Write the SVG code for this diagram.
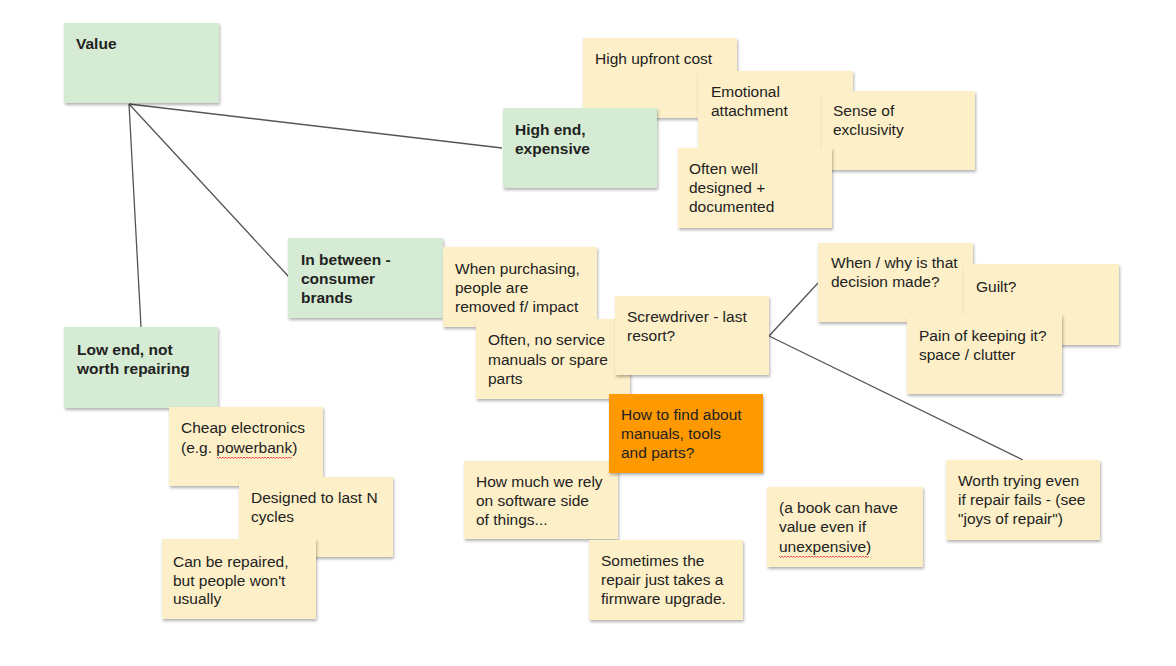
<svg xmlns="http://www.w3.org/2000/svg" width="1176" height="666" viewBox="0 0 1176 666">
<defs>
<filter id="sh" x="-10%" y="-10%" width="125%" height="130%">
<feDropShadow dx="1" dy="2" stdDeviation="1.4" flood-color="#000" flood-opacity="0.3"/>
</filter>
<path id="wave" d="M0,0 l1.5,1.5 l1.5,-1.5" fill="none"/>
</defs>
<style>
.g{fill:#d6ebd3;filter:url(#sh)}
.y{fill:#fdf0c8;filter:url(#sh)}
.o{fill:#ff9900;filter:url(#sh)}
text{font-family:"Liberation Sans",Arial,sans-serif;font-size:15.5px;fill:#222}
.b{font-weight:bold}
.c line{stroke:#555;stroke-width:1.3}
.w{fill:none;stroke:#e03030;stroke-width:0.8}
</style>
<rect width="1176" height="666" fill="#ffffff"/>
<g class="c" id="connectors">
<line x1="129" y1="104" x2="502" y2="148"/>
<line x1="129" y1="104" x2="289" y2="277"/>
<line x1="129" y1="104" x2="141" y2="327"/>
<line x1="769" y1="336" x2="818" y2="283"/>
<line x1="769" y1="336" x2="1023" y2="460"/>
</g>
<g id="value"><rect class="g" x="64" y="23" width="155" height="80"/><text class="b" x="76" y="49">Value</text></g>
<g id="high-upfront"><rect class="y" x="583" y="38" width="154" height="80"/><text x="595" y="64">High upfront cost</text></g>
<g id="high-end"><rect class="g" x="503" y="108" width="154" height="80"/><text class="b" x="515" y="135">High end,</text><text class="b" x="515" y="154">expensive</text></g>
<g id="emotional"><rect class="y" x="698" y="71" width="155" height="80"/><text x="711" y="97">Emotional</text><text x="711" y="116">attachment</text></g>
<g id="exclusivity"><rect class="y" x="822" y="91" width="153" height="79"/><text x="833" y="116">Sense of</text><text x="833" y="135">exclusivity</text></g>
<g id="well-designed"><rect class="y" x="678" y="148" width="154" height="80"/><text x="689" y="174">Often well</text><text x="689" y="193">designed +</text><text x="689" y="212">documented</text></g>
<g id="in-between"><rect class="g" x="288" y="238" width="155" height="80"/><text class="b" x="301" y="265">In between -</text><text class="b" x="301" y="284">consumer</text><text class="b" x="301" y="303">brands</text></g>
<g id="purchasing"><rect class="y" x="443" y="247" width="154" height="80"/><text x="455" y="274">When purchasing,</text><text x="455" y="293">people are</text><text x="455" y="312">removed f/ impact</text></g>
<g id="no-service"><rect class="y" x="476" y="319" width="154" height="80"/><text x="488" y="345">Often, no service</text><text x="488" y="365">manuals or spare</text><text x="488" y="384">parts</text></g>
<g id="screwdriver"><rect class="y" x="615" y="296" width="154" height="79"/><text x="627" y="322">Screwdriver - last</text><text x="627" y="341">resort?</text></g>
<g id="when-why"><rect class="y" x="818" y="243" width="155" height="79"/><text x="831" y="268">When / why is that</text><text x="831" y="287">decision made?</text></g>
<g id="guilt"><rect class="y" x="964" y="264" width="155" height="81"/><text x="976" y="292">Guilt?</text></g>
<g id="pain"><rect class="y" x="907" y="314" width="155" height="80"/><text x="919" y="341">Pain of keeping it?</text><text x="919" y="360">space / clutter</text></g>
<g id="worth-trying"><rect class="y" x="946" y="460" width="154" height="80"/><text x="958" y="486">Worth trying even</text><text x="958" y="505">if repair fails - (see</text><text x="958" y="524">"joys of repair")</text></g>
<g id="low-end"><rect class="g" x="64" y="327" width="154" height="81"/><text class="b" x="77" y="355">Low end, not</text><text class="b" x="77" y="374">worth repairing</text></g>
<g id="cheap"><rect class="y" x="169" y="407" width="154" height="79"/><text x="181" y="433">Cheap electronics</text><text x="181" y="453">(e.g. powerbank)</text><path class="w" d="M217,457 l1.5,1.5 l1.5,-1.5 l1.5,1.5 l1.5,-1.5 l1.5,1.5 l1.5,-1.5 l1.5,1.5 l1.5,-1.5 l1.5,1.5 l1.5,-1.5 l1.5,1.5 l1.5,-1.5 l1.5,1.5 l1.5,-1.5 l1.5,1.5 l1.5,-1.5 l1.5,1.5 l1.5,-1.5 l1.5,1.5 l1.5,-1.5 l1.5,1.5 l1.5,-1.5 l1.5,1.5 l1.5,-1.5 l1.5,1.5 l1.5,-1.5 l1.5,1.5 l1.5,-1.5 l1.5,1.5 l1.5,-1.5 l1.5,1.5 l1.5,-1.5 l1.5,1.5 l1.5,-1.5 l1.5,1.5 l1.5,-1.5 l1.5,1.5 l1.5,-1.5 l1.5,1.5 l1.5,-1.5 l1.5,1.5 l1.5,-1.5 l1.5,1.5 l1.5,-1.5 l1.5,1.5 l1.5,-1.5 l1.5,1.5 l1.5,-1.5 l1.5,1.5 l1.5,-1.5"/></g>
<g id="designed"><rect class="y" x="239" y="477" width="154" height="80"/><text x="251" y="503">Designed to last N</text><text x="251" y="522">cycles</text></g>
<g id="can-be-repaired"><rect class="y" x="162" y="539" width="154" height="80"/><text x="173" y="567">Can be repaired,</text><text x="173" y="586">but people won't</text><text x="173" y="604">usually</text></g>
<g id="software"><rect class="y" x="464" y="461" width="154" height="78"/><text x="476" y="487">How much we rely</text><text x="476" y="506">on software side</text><text x="476" y="525">of things...</text></g>
<g id="how-to-find"><rect class="o" x="609" y="394" width="154" height="79"/><text x="621" y="420">How to find about</text><text x="621" y="439">manuals, tools</text><text x="621" y="458">and parts?</text></g>
<g id="firmware"><rect class="y" x="589" y="540" width="154" height="80"/><text x="601" y="566">Sometimes the</text><text x="601" y="585">repair just takes a</text><text x="601" y="604">firmware upgrade.</text></g>
<g id="book"><rect class="y" x="767" y="487" width="156" height="80"/><text x="779" y="513">(a book can have</text><text x="779" y="532">value even if</text><text x="779" y="552">unexpensive)</text><path class="w" d="M779,556 l1.5,1.5 l1.5,-1.5 l1.5,1.5 l1.5,-1.5 l1.5,1.5 l1.5,-1.5 l1.5,1.5 l1.5,-1.5 l1.5,1.5 l1.5,-1.5 l1.5,1.5 l1.5,-1.5 l1.5,1.5 l1.5,-1.5 l1.5,1.5 l1.5,-1.5 l1.5,1.5 l1.5,-1.5 l1.5,1.5 l1.5,-1.5 l1.5,1.5 l1.5,-1.5 l1.5,1.5 l1.5,-1.5 l1.5,1.5 l1.5,-1.5 l1.5,1.5 l1.5,-1.5 l1.5,1.5 l1.5,-1.5 l1.5,1.5 l1.5,-1.5 l1.5,1.5 l1.5,-1.5 l1.5,1.5 l1.5,-1.5 l1.5,1.5 l1.5,-1.5 l1.5,1.5 l1.5,-1.5 l1.5,1.5 l1.5,-1.5 l1.5,1.5 l1.5,-1.5 l1.5,1.5 l1.5,-1.5 l1.5,1.5 l1.5,-1.5 l1.5,1.5 l1.5,-1.5 l1.5,1.5 l1.5,-1.5 l1.5,1.5 l1.5,-1.5 l1.5,1.5 l1.5,-1.5 l1.5,1.5 l1.5,-1.5 l1.5,1.5 l1.5,-1.5"/></g>
</svg>
